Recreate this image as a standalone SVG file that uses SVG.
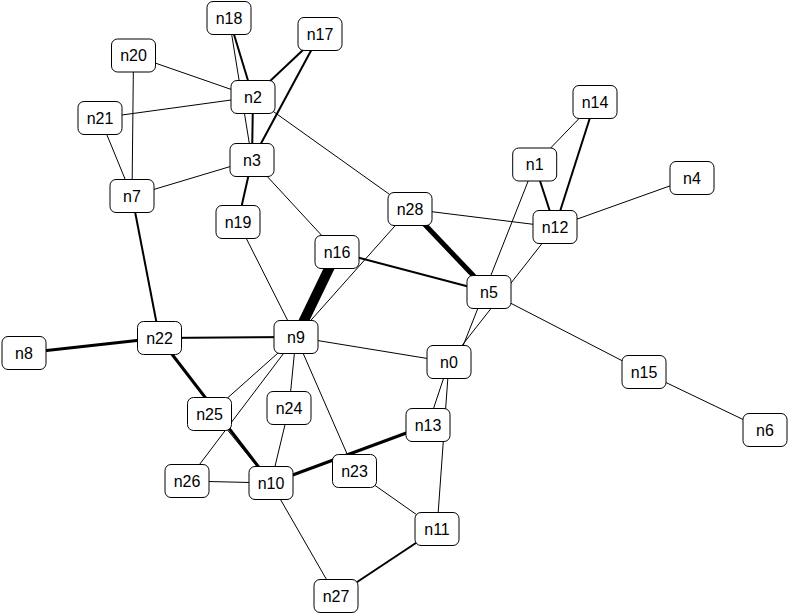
<svg xmlns="http://www.w3.org/2000/svg" width="789" height="614" viewBox="0 0 789 614">
<style>
.n rect{fill:#fff;stroke:#000;stroke-width:1}
.n text{font-family:"Liberation Sans",Arial,sans-serif;font-size:16px;fill:#000;text-anchor:middle;dominant-baseline:central}
#edges line{stroke:#000;stroke-linecap:butt}
</style>
<rect width="789" height="614" fill="#fff"/>
<g id="edges">
<line x1="229" y1="18" x2="253" y2="97" stroke-width="2"/>
<line x1="229" y1="18" x2="252" y2="160" stroke-width="1"/>
<line x1="320" y1="34" x2="253" y2="97" stroke-width="2"/>
<line x1="320" y1="34" x2="252" y2="160" stroke-width="2"/>
<line x1="133.5" y1="55.5" x2="253" y2="97" stroke-width="1"/>
<line x1="133.5" y1="55.5" x2="132" y2="196" stroke-width="1"/>
<line x1="100" y1="118" x2="253" y2="97" stroke-width="1"/>
<line x1="100" y1="118" x2="132" y2="196" stroke-width="1"/>
<line x1="253" y1="97" x2="252" y2="160" stroke-width="2"/>
<line x1="253" y1="97" x2="410" y2="209" stroke-width="1"/>
<line x1="252" y1="160" x2="132" y2="196" stroke-width="1"/>
<line x1="252" y1="160" x2="238" y2="222" stroke-width="2"/>
<line x1="252" y1="160" x2="337" y2="252" stroke-width="1"/>
<line x1="238" y1="222" x2="296" y2="337" stroke-width="1"/>
<line x1="337" y1="252" x2="296" y2="337" stroke-width="10"/>
<line x1="337" y1="252" x2="489" y2="292" stroke-width="2"/>
<line x1="410" y1="209" x2="296" y2="337" stroke-width="1"/>
<line x1="410" y1="209" x2="555" y2="227" stroke-width="1"/>
<line x1="410" y1="209" x2="489" y2="292" stroke-width="5"/>
<line x1="534.7" y1="164.5" x2="595" y2="102" stroke-width="1"/>
<line x1="595" y1="102" x2="555" y2="227" stroke-width="2"/>
<line x1="534.7" y1="164.5" x2="555" y2="227" stroke-width="2"/>
<line x1="555" y1="227" x2="692" y2="178" stroke-width="1"/>
<line x1="534.7" y1="164.5" x2="463" y2="346" stroke-width="1"/>
<line x1="555" y1="227" x2="449" y2="362" stroke-width="1"/>
<line x1="489" y1="292" x2="644" y2="372" stroke-width="1"/>
<line x1="644" y1="372" x2="765" y2="430" stroke-width="1"/>
<line x1="132" y1="196" x2="159.5" y2="338" stroke-width="2"/>
<line x1="159.5" y1="338" x2="24" y2="353" stroke-width="3"/>
<line x1="159.5" y1="338" x2="296" y2="337" stroke-width="2"/>
<line x1="159.5" y1="338" x2="271" y2="483" stroke-width="3"/>
<line x1="213" y1="412" x2="268" y2="480" stroke-width="1"/>
<line x1="296" y1="337" x2="209.5" y2="414" stroke-width="1"/>
<line x1="296" y1="337" x2="187" y2="481" stroke-width="1"/>
<line x1="296" y1="337" x2="289" y2="408" stroke-width="1"/>
<line x1="296" y1="337" x2="354.5" y2="471" stroke-width="1"/>
<line x1="296" y1="337" x2="449" y2="362" stroke-width="1"/>
<line x1="289" y1="408" x2="271" y2="483" stroke-width="1"/>
<line x1="187" y1="481" x2="271" y2="483" stroke-width="1"/>
<line x1="271" y1="483" x2="428" y2="425" stroke-width="3"/>
<line x1="271" y1="483" x2="336" y2="596" stroke-width="1"/>
<line x1="336" y1="596" x2="437" y2="529" stroke-width="2"/>
<line x1="354.5" y1="471" x2="437" y2="529" stroke-width="1"/>
<line x1="449" y1="362" x2="428" y2="425" stroke-width="1"/>
<line x1="449" y1="362" x2="437" y2="529" stroke-width="1"/>
</g>
<g id="n0" class="n"><rect x="427" y="345.5" width="44" height="33" rx="6"/><text x="449" y="362">n0</text></g>
<g id="n1" class="n"><rect x="512.7" y="148" width="44" height="33" rx="6"/><text x="534.7" y="164.5">n1</text></g>
<g id="n2" class="n"><rect x="231" y="80.5" width="44" height="33" rx="6"/><text x="253" y="97">n2</text></g>
<g id="n3" class="n"><rect x="230" y="143.5" width="44" height="33" rx="6"/><text x="252" y="160">n3</text></g>
<g id="n4" class="n"><rect x="670" y="161.5" width="44" height="33" rx="6"/><text x="692" y="178">n4</text></g>
<g id="n5" class="n"><rect x="467" y="275.5" width="44" height="33" rx="6"/><text x="489" y="292">n5</text></g>
<g id="n6" class="n"><rect x="743" y="413.5" width="44" height="33" rx="6"/><text x="765" y="430">n6</text></g>
<g id="n7" class="n"><rect x="110" y="179.5" width="44" height="33" rx="6"/><text x="132" y="196">n7</text></g>
<g id="n8" class="n"><rect x="2" y="336.5" width="44" height="33" rx="6"/><text x="24" y="353">n8</text></g>
<g id="n9" class="n"><rect x="274" y="320.5" width="44" height="33" rx="6"/><text x="296" y="337">n9</text></g>
<g id="n10" class="n"><rect x="249" y="466.5" width="44" height="33" rx="6"/><text x="271" y="483">n10</text></g>
<g id="n11" class="n"><rect x="415" y="512.5" width="44" height="33" rx="6"/><text x="437" y="529">n11</text></g>
<g id="n12" class="n"><rect x="533" y="210.5" width="44" height="33" rx="6"/><text x="555" y="227">n12</text></g>
<g id="n13" class="n"><rect x="406" y="408.5" width="44" height="33" rx="6"/><text x="428" y="425">n13</text></g>
<g id="n14" class="n"><rect x="573" y="85.5" width="44" height="33" rx="6"/><text x="595" y="102">n14</text></g>
<g id="n15" class="n"><rect x="622" y="355.5" width="44" height="33" rx="6"/><text x="644" y="372">n15</text></g>
<g id="n16" class="n"><rect x="315" y="235.5" width="44" height="33" rx="6"/><text x="337" y="252">n16</text></g>
<g id="n17" class="n"><rect x="298" y="17.5" width="44" height="33" rx="6"/><text x="320" y="34">n17</text></g>
<g id="n18" class="n"><rect x="207" y="1.5" width="44" height="33" rx="6"/><text x="229" y="18">n18</text></g>
<g id="n19" class="n"><rect x="216" y="205.5" width="44" height="33" rx="6"/><text x="238" y="222">n19</text></g>
<g id="n20" class="n"><rect x="111.5" y="39" width="44" height="33" rx="6"/><text x="133.5" y="55.5">n20</text></g>
<g id="n21" class="n"><rect x="78" y="101.5" width="44" height="33" rx="6"/><text x="100" y="118">n21</text></g>
<g id="n22" class="n"><rect x="137.5" y="321.5" width="44" height="33" rx="6"/><text x="159.5" y="338">n22</text></g>
<g id="n23" class="n"><rect x="332.5" y="454.5" width="44" height="33" rx="6"/><text x="354.5" y="471">n23</text></g>
<g id="n24" class="n"><rect x="267" y="391.5" width="44" height="33" rx="6"/><text x="289" y="408">n24</text></g>
<g id="n25" class="n"><rect x="187.5" y="397.5" width="44" height="33" rx="6"/><text x="209.5" y="414">n25</text></g>
<g id="n26" class="n"><rect x="165" y="464.5" width="44" height="33" rx="6"/><text x="187" y="481">n26</text></g>
<g id="n27" class="n"><rect x="314" y="579.5" width="44" height="33" rx="6"/><text x="336" y="596">n27</text></g>
<g id="n28" class="n"><rect x="388" y="192.5" width="44" height="33" rx="6"/><text x="410" y="209">n28</text></g>
</svg>
